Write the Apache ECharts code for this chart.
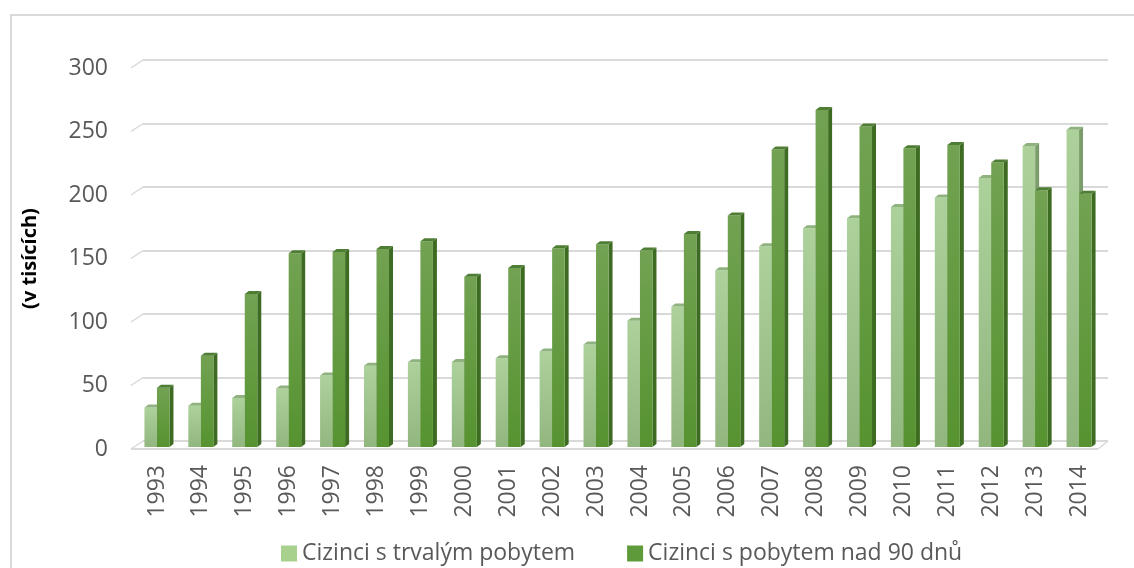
<!DOCTYPE html>
<html>
<head>
<meta charset="utf-8">
<script src="https://cdn.jsdelivr.net/npm/echarts@6/dist/echarts.min.js"></script>
<style>
  html, body { margin: 0; padding: 0; overflow: hidden; background: #fff; }
  #frame { position: absolute; left: 10px; top: 14px; width: 1300px; height: 800px; border: 2px solid #d9d9d9; }
  #main { position: absolute; left: 0; top: 0; width: 1134px; height: 568px; }
</style>
</head>
<body>
<div id="frame"></div>
<div id="main"></div>
<script>
// roky
const years = ['1993', '1994', '1995', '1996', '1997', '1998', '1999', '2000', '2001', '2002', '2003',
  '2004', '2005', '2006', '2007', '2008', '2009', '2010', '2011', '2012', '2013', '2014']
// v tisících
const trvaly = [31.1, 32.5, 38.6, 46.1, 56.3, 63.9, 66.8, 66.9, 69.8, 75.2, 80.8,
  99.5, 110.6, 139.2, 158.0, 172.2, 180.2, 189.0, 196.4, 211.8, 237.0, 249.9]
const nad90 = [46.6, 71.9, 120.4, 152.5, 153.5, 155.9, 162.1, 134.1, 141.0, 156.4, 159.6,
  154.8, 167.7, 182.3, 234.3, 265.4, 252.3, 235.3, 237.8, 224.1, 202.2, 199.5]
const ticks = [0, 50, 100, 150, 200, 250, 300]

const chart = echarts.init(document.getElementById('main'), null, { renderer: 'canvas' })

const grad = (a, b) => new echarts.graphic.LinearGradient(0, 0, 0, 1, [
  { offset: 0, color: a }, { offset: 1, color: b }
])

// kvádr: přední stěna, bok, vršek
function makeBar(side, colors) {
  return function (params, api) {
    const idx = api.value(0)
    const v = api.value(1)
    const top = api.coord([idx, v])
    const base = api.coord([idx, 0])
    const band = api.size([1, 0])[0]
    const w = band * 0.285
    const x0 = side === 0 ? top[0] - w : top[0]
    const x1 = x0 + w
    const yt = top[1] - 2
    const yb = base[1] - 2
    const dx = 4, dy = -3
    return {
      type: 'group',
      children: [
        {
          type: 'polygon',
          shape: { points: [[x1, yt], [x1 + dx, yt + dy], [x1 + dx, yb + dy], [x1, yb]] },
          style: { fill: colors.side }
        },
        {
          type: 'rect',
          shape: { x: x0, y: yt, width: w, height: yb - yt },
          style: { fill: grad(colors.top, colors.bottom) }
        },
        {
          type: 'polygon',
          shape: { points: [[x0, yt], [x1, yt], [x1 + dx, yt + dy], [x0 + dx, yt + dy]] },
          style: { fill: colors.cap }
        }
      ]
    }
  }
}

// šikmé čáry u levé stěny a přední hrana podlahy
function frameItem(params, api) {
  const cs = params.coordSys
  const v = api.value(0)
  const p = api.coord([0, v])
  const y = p[1]
  const children = [{
    type: 'line',
    shape: { x1: cs.x - 4, y1: y, x2: cs.x + 8, y2: y - 8 },
    style: { stroke: '#d9d9d9', lineWidth: 1.5 }
  }]
  if (v === 0) {
    children.push({
      type: 'line',
      shape: { x1: cs.x - 4, y1: y, x2: cs.x + cs.width - 3, y2: y },
      style: { stroke: '#d9d9d9', lineWidth: 2 }
    })
    children.push({
      type: 'line',
      shape: { x1: cs.x + cs.width - 3, y1: y, x2: cs.x + cs.width + 7, y2: y - 8 },
      style: { stroke: '#d9d9d9', lineWidth: 1.5 }
    })
  }
  return { type: 'group', children: children }
}

const font = '"Open Sans", "Noto Sans", sans-serif'

chart.setOption({
  animation: false,
  textStyle: { fontFamily: font },
  grid: [
    { left: 135, right: 33, top: 68, bottom: 119 },
    { left: 143, right: 26, top: 60, bottom: 127 }
  ],
  xAxis: [
    {
      type: 'category',
      gridIndex: 0,
      data: years,
      axisLine: { show: false },
      axisTick: { show: false },
      axisLabel: { rotate: 90, fontSize: 23, color: '#595959', margin: 16, fontFamily: font }
    },
    { type: 'category', gridIndex: 1, data: years, show: false }
  ],
  yAxis: [
    {
      type: 'value',
      gridIndex: 0,
      min: 0,
      max: 300,
      interval: 50,
      name: '(v tisících)',
      nameLocation: 'middle',
      nameGap: 95,
      nameTextStyle: { fontSize: 20, fontWeight: 'bold', color: '#000', fontFamily: font },
      axisLine: { show: false },
      axisTick: { show: false },
      splitLine: { show: false },
      axisLabel: { fontSize: 23, color: '#595959', margin: 27, fontFamily: font }
    },
    {
      type: 'value',
      gridIndex: 1,
      min: 0,
      max: 300,
      interval: 50,
      axisLine: { show: false },
      axisTick: { show: false },
      axisLabel: { show: false },
      splitLine: { lineStyle: { color: '#d9d9d9', width: 2 } }
    }
  ],
  legend: {
    data: ['Cizinci s trvalým pobytem', 'Cizinci s pobytem nad 90 dnů'],
    left: 276,
    top: 537,
    icon: 'rect',
    itemWidth: 16,
    itemHeight: 16,
    itemGap: 52,
    textStyle: { fontSize: 23, color: '#595959', fontFamily: font }
  },
  series: [
    {
      type: 'custom',
      name: 'frame',
      xAxisIndex: 0,
      yAxisIndex: 0,
      silent: true,
      z: 1,
      data: ticks.map(t => [t]),
      encode: { y: 0 },
      renderItem: frameItem
    },
    {
      type: 'custom',
      name: 'Cizinci s trvalým pobytem',
      xAxisIndex: 0,
      yAxisIndex: 0,
      itemStyle: { color: '#a9d18e' },
      data: trvaly.map((v, i) => [i, v]),
      encode: { x: 0, y: 1 },
      renderItem: makeBar(0, { top: '#add19b', bottom: '#91b67e', side: '#7d9c6c', cap: '#8fb27e' })
    },
    {
      type: 'custom',
      name: 'Cizinci s pobytem nad 90 dnů',
      xAxisIndex: 0,
      yAxisIndex: 0,
      itemStyle: { color: '#5e9a3a' },
      data: nad90.map((v, i) => [i, v]),
      encode: { x: 0, y: 1 },
      renderItem: makeBar(1, { top: '#72a252', bottom: '#569330', side: '#3e6b22', cap: '#4e7e33' })
    }
  ]
})
</script>
</body>
</html>
